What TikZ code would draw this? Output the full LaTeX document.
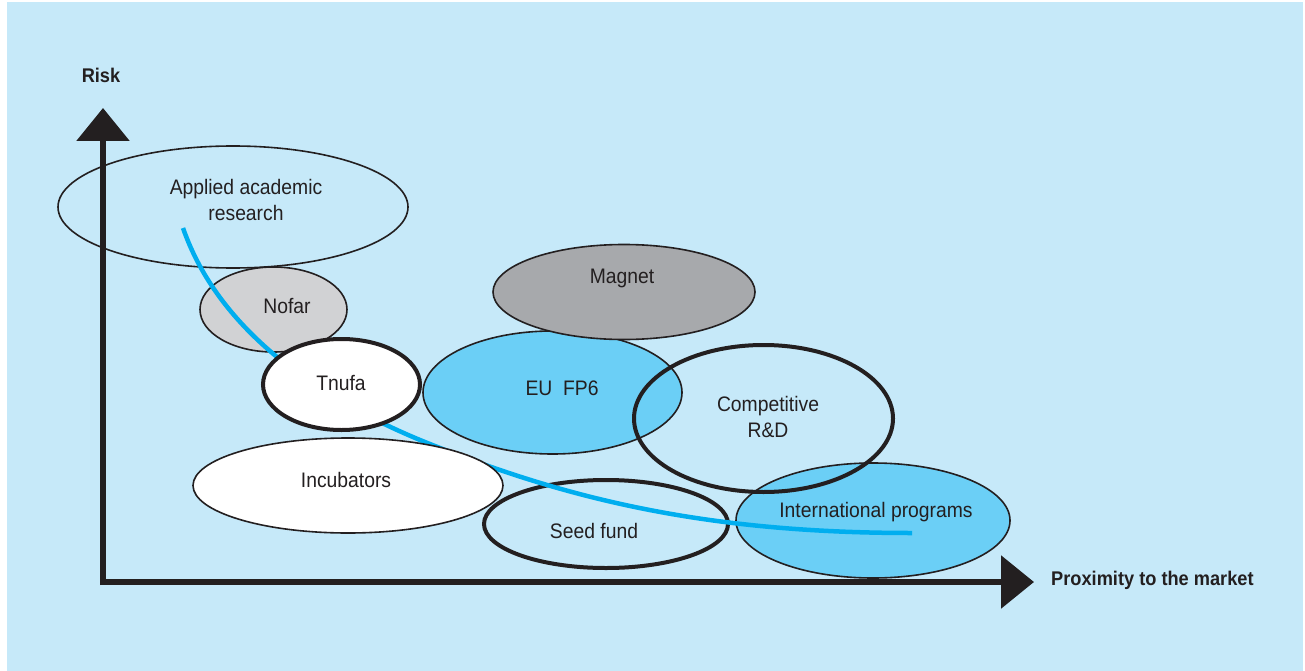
\documentclass[tikz,border=0pt]{standalone}
\usepackage{fontspec}
\setmainfont{Liberation Sans}[FakeStretch=0.92]
\usetikzlibrary{shapes.geometric,arrows.meta}
\definecolor{bgblue}{HTML}{C6E9F9}
\definecolor{eublue}{HTML}{6BCFF6}
\definecolor{lightgr}{HTML}{D1D2D4}
\definecolor{darkgr}{HTML}{A7A9AC}
\definecolor{curvecyan}{HTML}{00AEEF}
\definecolor{ink}{HTML}{231F20}
\tikzset{
  ell/.style={ellipse, inner sep=0pt, draw=ink, line width=1.6pt},
  thickell/.style={ellipse, inner sep=0pt, draw=ink, line width=4pt},
  lbl/.style={text=ink, font=\fontsize{21}{25.5}\selectfont, align=center, inner sep=0pt},
  axlbl/.style={text=ink, font=\bfseries\fontsize{19.8}{24}\selectfont, inner sep=0pt},
  axis/.style={draw=ink, line width=6pt, -{Triangle[length=33pt,width=52pt]}},
}
\begin{document}
\begin{tikzpicture}[x=1pt,y=-1pt]
\useasboundingbox (0,0) rectangle (1305,671);
\fill[white] (0,0) rectangle (1305,671);
\fill[bgblue] (7,2) rectangle (1303,671);

% ellipses (back to front)
\node[ell, minimum width=350pt, minimum height=122pt] (applied) at (233,207) {};
\node[ell, fill=lightgr, minimum width=147pt, minimum height=85pt] (nofar) at (273.5,309.5) {};
\node[ell, fill=eublue, minimum width=259pt, minimum height=123pt] (eu) at (552.5,392.5) {};
\node[ell, fill=darkgr, minimum width=262pt, minimum height=95pt] (magnet) at (624,292) {};
\node[ell, fill=eublue, minimum width=274pt, minimum height=115pt] (intl) at (873,520.5) {};
\node[thickell, minimum width=244pt, minimum height=88pt] (seed) at (606,524) {};
\node[thickell, minimum width=259pt, minimum height=147pt] (comp) at (763.5,418.5) {};

% trajectory curve
\coordinate (cstart) at (183,228);
\coordinate (cmid) at (420,440);
\coordinate (cend) at (912,533);
\draw[curvecyan, line width=4.5pt] (cstart) .. controls (215,320) and (300,390) .. (cmid)
  .. controls (560,497) and (700,533) .. (cend);

\node[thickell, fill=white, minimum width=157pt, minimum height=91pt] (tnufa) at (341.5,384.5) {};
\node[ell, fill=white, minimum width=310pt, minimum height=95pt] (incub) at (348,485.5) {};

% texts
\node[lbl] (tapplied) at (246,200) {Applied academic\\research};
\node[lbl] (tnofar) at (287,306) {Nofar};
\node[lbl] (tmagnet) at (622,278) {Magnet};
\node[lbl] (teu) at (562,388) {EU\ \ FP6};
\node[lbl] (tcomp) at (768,417) {Competitive\\R\&D};
\node[lbl] (ttnufa) at (341,383) {Tnufa};
\node[lbl] (tincub) at (346,480) {Incubators};
\node[lbl] (tseed) at (594,531) {Seed fund};
\node[lbl] (tintl) at (876,512) {International programs};

% axes
\coordinate (orig) at (103,582);
\coordinate (ytip) at (103,108);
\coordinate (xtip) at (1034,582);
\draw[axis] (103,585) -- (ytip);
\draw[axis] (100,582) -- (xtip);
\node[axlbl] (risk) at (101,75) {Risk};
\node[axlbl, anchor=west] (prox) at (1051,580) {Proximity to the market};
\end{tikzpicture}
\end{document}
